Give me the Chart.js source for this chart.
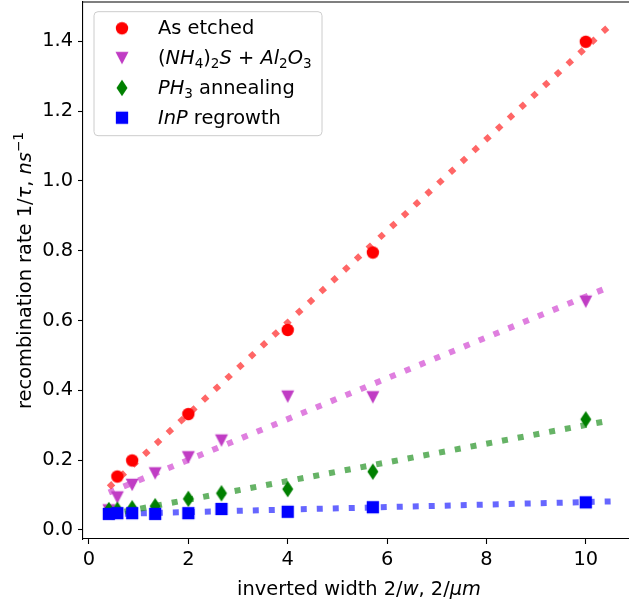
<!DOCTYPE html>
<html lang="en">
<head>
<meta charset="UTF-8">
<title>Recombination rate vs inverted width</title>
<script src="https://cdn.jsdelivr.net/npm/chart.js"></script>
<style>
  body { margin: 0; background: #fff; overflow: hidden; }
  #wrap { width: 629px; height: 610px; }
</style>
</head>
<body>
<div id="wrap"><canvas id="chart" width="629" height="610"></canvas></div>
<script>
// values: x = 2/w (1/um), y = 1/tau (1/ns)
const etchedX = [0.571, 0.87, 2, 4, 5.714, 10];
const etchedY = [0.153, 0.199, 0.332, 0.573, 0.795, 1.399];
const sulfX = [0.4, 0.571, 0.87, 1.333, 2, 2.667, 4, 5.714, 10];
const sulfY = [0.056, 0.093, 0.129, 0.162, 0.208, 0.256, 0.382, 0.380, 0.654];
const ph3X = [0.4, 0.571, 0.87, 1.333, 2, 2.667, 4, 5.714, 10];
const ph3Y = [0.057, 0.058, 0.062, 0.068, 0.089, 0.105, 0.117, 0.167, 0.317];
const inpX = [0.4, 0.571, 0.87, 1.333, 2, 2.667, 4, 5.714, 10];
const inpY = [0.046, 0.048, 0.048, 0.046, 0.048, 0.060, 0.052, 0.065, 0.079];

// dotted linear fits, end points
const fitX = [0.4, 10.5];
const etchedFitY = [0.122, 1.448];
const sulfFitY = [0.107, 0.698];
const ph3FitY = [0.044, 0.314];
const inpFitY = [0.0454, 0.0816];

const xTicks = [0, 2, 4, 6, 8, 10];
const yTicks = [0, 0.2, 0.4, 0.6, 0.8, 1.0, 1.2, 1.4];

// text runs: r = upright, i = italic, sub / sup = small shifted
const legendLabels = [
  [['As etched', 'r']],
  [['(', 'r'], ['NH', 'i'], ['4', 'sub'], [')', 'r'], ['2', 'sub'], ['S', 'i'], [' + ', 'r'], ['Al', 'i'], ['2', 'sub'], ['O', 'i'], ['3', 'sub']],
  [['PH', 'i'], ['3', 'sub'], [' annealing', 'r']],
  [['InP', 'i'], [' regrowth', 'r']]
];
const xTitle = [['inverted width 2/', 'r'], ['w', 'i'], [', 2/', 'r'], ['\u03bcm', 'i']];
const yTitle = [['recombination rate 1/', 'r'], ['\u03c4', 'i'], [', ', 'r'], ['ns', 'i'], ['\u22121', 'sup']];

const FONT = '"DejaVu Sans", sans-serif';
const FS = 19.4;

function marker(kind, color) {
  const c = document.createElement('canvas');
  c.width = 20; c.height = 20;
  const g = c.getContext('2d');
  g.fillStyle = color;
  g.beginPath();
  if (kind === 'circle') g.arc(10, 10, 6.2, 0, Math.PI * 2);
  else if (kind === 'tri') { g.moveTo(3.5, 3.8); g.lineTo(16.5, 3.8); g.lineTo(10, 16.3); }
  else if (kind === 'diamond') { g.moveTo(10, 1.7); g.lineTo(15.5, 10); g.lineTo(10, 18.3); g.lineTo(4.5, 10); }
  else g.rect(3.85, 3.85, 12.3, 12.3);
  g.closePath();
  g.fill();
  return c;
}

const markers = [
  marker('circle', '#ff0000'),
  marker('tri', '#c03cc4'),
  marker('diamond', '#008000'),
  marker('square', '#0000ff')
];

function pts(xs, ys) {
  return xs.map((x, i) => ({ x: x, y: ys[i] }));
}

function scatterSet(label, xs, ys, m, order) {
  return { label: label, data: pts(xs, ys), pointStyle: m, pointRadius: 6, pointHoverRadius: 6, order: order };
}

function fitSet(ys, color, order) {
  return {
    data: pts(fitX, ys), showLine: true, pointRadius: 0, pointHoverRadius: 0,
    borderColor: color, borderWidth: 6, borderDash: [6, 10], borderCapStyle: 'butt', order: order
  };
}

function runFont(k) {
  const small = k === 'sub' || k === 'sup';
  return (k === 'i' ? 'italic ' : '') + (small ? FS * 0.7 : FS) + 'px ' + FONT;
}
function runShift(k) {
  return k === 'sub' ? FS * 0.22 : k === 'sup' ? -FS * 0.42 : 0;
}
function runsWidth(ctx, runs) {
  let w = 0;
  for (const [t, k] of runs) { ctx.font = runFont(k); w += ctx.measureText(t).width; }
  return w;
}
function drawRuns(ctx, runs, x, y) {
  for (const [t, k] of runs) {
    ctx.font = runFont(k);
    ctx.fillText(t, x, y + runShift(k));
    x += ctx.measureText(t).width;
  }
}

// drop the label overhang padding chart.js adds around each axis
function noPad(s) {
  s.paddingTop = 0; s.paddingBottom = 0; s.paddingLeft = 0; s.paddingRight = 0;
}

const extras = {
  id: 'extras',
  afterDraw(chart) {
    const ctx = chart.ctx;
    const a = chart.chartArea;
    ctx.save();
    // top spine
    ctx.strokeStyle = '#000';
    ctx.lineWidth = 1.1;
    ctx.beginPath();
    ctx.moveTo(a.left, a.top);
    ctx.lineTo(a.right, a.top);
    ctx.stroke();

    ctx.fillStyle = '#000';
    ctx.textBaseline = 'alphabetic';
    // x title
    const xw = runsWidth(ctx, xTitle);
    drawRuns(ctx, xTitle, 359 - xw / 2, 595);
    // y title
    const yw = runsWidth(ctx, yTitle);
    ctx.save();
    ctx.translate(31, (a.top + a.bottom) / 2);
    ctx.rotate(-Math.PI / 2);
    drawRuns(ctx, yTitle, -yw / 2, 0);
    ctx.restore();

    // legend
    const bx = a.left + 11, by = a.top + 9.7, bw = 228, bh = 124;
    ctx.beginPath();
    ctx.roundRect(bx, by, bw, bh, 4);
    ctx.fillStyle = 'rgba(255,255,255,0.8)';
    ctx.fill();
    ctx.strokeStyle = '#cccccc';
    ctx.lineWidth = 1;
    ctx.stroke();
    ctx.fillStyle = '#000';
    legendLabels.forEach((runs, i) => {
      const ry = by + 16.6 + i * 29.8;
      const m = markers[i];
      ctx.drawImage(m, bx + 28 - m.width / 2, ry - m.height / 2);
      drawRuns(ctx, runs, bx + 64, ry + 6);
    });
    ctx.restore();
  }
};

Chart.defaults.font.family = FONT;
Chart.defaults.font.size = FS;
Chart.defaults.color = '#000';

new Chart(document.getElementById('chart'), {
  type: 'scatter',
  data: {
    datasets: [
      scatterSet('As etched', etchedX, etchedY, markers[0], 4),
      scatterSet('(NH4)2S + Al2O3', sulfX, sulfY, markers[1], 3),
      scatterSet('PH3 annealing', ph3X, ph3Y, markers[2], 2),
      scatterSet('InP regrowth', inpX, inpY, markers[3], 1),
      fitSet(etchedFitY, 'rgba(255,0,0,0.6)', 5),
      fitSet(sulfFitY, 'rgba(191,0,191,0.5)', 6),
      fitSet(ph3FitY, 'rgba(0,128,0,0.6)', 7),
      fitSet(inpFitY, 'rgba(0,0,255,0.6)', 8)
    ]
  },
  options: {
    responsive: false,
    animation: false,
    layout: { autoPadding: false, padding: { top: 2, left: 0, right: 0, bottom: 0 } },
    plugins: { legend: { display: false }, tooltip: { enabled: false } },
    scales: {
      x: {
        type: 'linear', min: -0.12, max: 10.87,
        afterFit: s => { s.height = 71; noPad(s); },
        afterBuildTicks: s => { s.ticks = xTicks.map(v => ({ value: v })); },
        grid: { drawOnChartArea: false, drawTicks: true, tickLength: 5, tickWidth: 1.1, tickColor: '#000' },
        border: { display: true, color: '#000', width: 1.1 },
        ticks: { padding: 4, maxRotation: 0, color: '#000', callback: v => String(v) }
      },
      y: {
        type: 'linear', min: -0.026, max: 1.513,
        afterFit: s => { s.width = 83; noPad(s); },
        afterBuildTicks: s => { s.ticks = yTicks.map(v => ({ value: v })); },
        grid: { drawOnChartArea: false, drawTicks: true, tickLength: 5, tickWidth: 1.1, tickColor: '#000' },
        border: { display: true, color: '#000', width: 1.1 },
        ticks: { padding: 5, color: '#000', callback: v => v.toFixed(1) }
      }
    }
  },
  plugins: [extras]
});
</script>
</body>
</html>
